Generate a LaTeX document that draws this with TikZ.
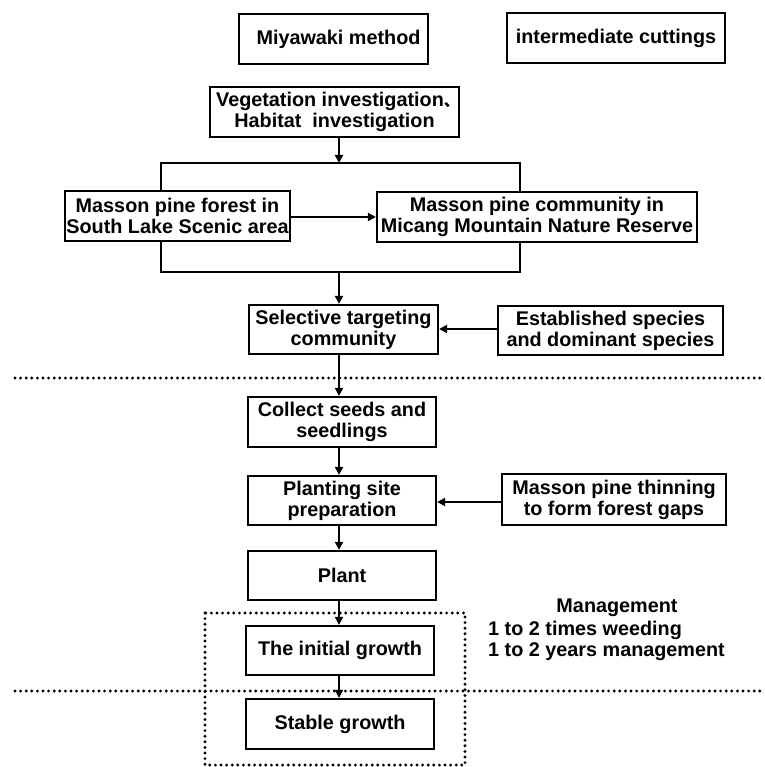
\documentclass[tikz,border=0pt]{standalone}
\usepackage{fontspec}
\setmainfont{Liberation Sans}
\newfontfamily\cjk{Noto Sans CJK SC}
\usetikzlibrary{arrows.meta}
\begin{document}
\begin{tikzpicture}[x=1pt,y=-1pt,
  box/.style={draw, line width=2.2pt, inner sep=0pt, align=center,
    font=\fontsize{19.8pt}{21pt}\selectfont\bfseries},
  txt/.style={inner sep=0pt, font=\fontsize{19.8pt}{21pt}\selectfont\bfseries},
  conn/.style={line width=2.1pt},
  arr/.style={line width=2.1pt, -{Triangle[length=8pt,width=8pt]}},
  dotline/.style={line width=3.2pt, dash pattern=on 0pt off 5.6pt, line cap=round}]
\useasboundingbox (0,0) rectangle (764,767);
% top boxes
\node[box, minimum width=189pt, minimum height=50pt] (mw) at (333.5,39) {\hspace*{10pt}Miyawaki method};
\node[box, minimum width=218pt, minimum height=50pt] (ic) at (616,38) {intermediate cuttings};
\node[box, minimum width=249pt, minimum height=50pt] (veg) at (334.5,112) {Vegetation investigation\makebox[9pt][l]{\cjk\fontsize{16pt}{16pt}\selectfont 、}\\Habitat\ \ investigation};
\node[box, minimum width=225pt, minimum height=50pt] (mpf) at (177.5,216) {Masson pine forest in\\South Lake Scenic area};
\node[box, minimum width=320pt, minimum height=50pt] (mpc) at (537,217) {Masson pine community in\\Micang Mountain Nature Reserve};
\node[box, minimum width=189pt, minimum height=49pt] (sel) at (343.5,329.5) {Selective targeting\\community};
\node[box, minimum width=225pt, minimum height=49pt] (est) at (610.5,330.5) {Established species\\and dominant species};
\node[box, minimum width=188pt, minimum height=50pt] (col) at (342,422) {Collect seeds and\\seedlings};
\node[box, minimum width=188pt, minimum height=49pt] (pla) at (342,500.5) {Planting site\\preparation};
\node[box, minimum width=224pt, minimum height=51pt] (mas) at (614,499.5) {Masson pine thinning\\to form forest gaps};
\node[box, minimum width=188pt, minimum height=49pt] (plant) at (342,575.5) {Plant};
\node[box, minimum width=188pt, minimum height=49pt] (ini) at (340,650.5) {The initial growth};
\node[box, minimum width=188pt, minimum height=50pt] (sta) at (340,724) {Stable growth};
% management text
\node[txt] (mg) at (617,608) {Management};
\node[txt, anchor=west] (mg1) at (488,630) {1 to 2 times weeding};
\node[txt, anchor=west] (mg2) at (488,652) {1 to 2 years management};
% bracket coordinates
\coordinate (tl) at (161,163);
\coordinate (tr) at (520,163);
\coordinate (tm) at (339,163);
\coordinate (bl) at (161,272);
\coordinate (br) at (520,272);
\coordinate (bm) at (339,272);
\draw[arr] (veg.south -| tm) -- (tm);
\draw[conn] (tl |- mpf.north) -- (tl) -- (tr) -- (tr |- mpc.north);
\draw[conn] (tl |- mpf.south) -- (bl) -- (br) -- (tr |- mpc.south);
\draw[arr] (mpf.east |- 0,217) -- (mpc.west |- 0,217);
\draw[arr] (bm) -- (bm |- sel.north);
\draw[arr] (est.west |- 0,329) -- (sel.east |- 0,329);
\draw[arr] (sel.south -| bm) -- (col.north -| bm);
\draw[arr] (col.south -| bm) -- (pla.north -| bm);
\draw[arr] (mas.west |- 0,502) -- (pla.east |- 0,502);
\draw[arr] (pla.south -| bm) -- (plant.north -| bm);
\draw[arr] (plant.south -| bm) -- (ini.north -| bm);
\draw[arr] (ini.south -| bm) -- (sta.north -| bm);
% dotted separators
\coordinate (d1l) at (15,378);
\coordinate (d1r) at (764,378);
\coordinate (d2l) at (15,691);
\coordinate (d2r) at (764,691);
\draw[dotline] (d1l) -- (d1r);
\draw[dotline] (d2l) -- (d2r);
\coordinate (dbl) at (205,613);
\coordinate (dbr) at (465,765);
\draw[dotline] (dbl) rectangle (dbr);
\end{tikzpicture}
\end{document}
